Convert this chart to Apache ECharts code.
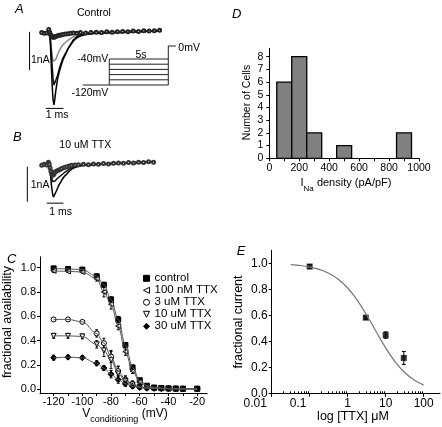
<!DOCTYPE html>
<html><head><meta charset="utf-8">
<script src="https://cdn.jsdelivr.net/npm/echarts@6/dist/echarts.min.js"></script>
<style>html,body{margin:0;padding:0;background:#fff}#c{width:442px;height:427px}</style>
</head><body><div id="c"></div>
<script>
const FONT = "'Liberation Sans', Arial, Helvetica, sans-serif";

// ---------- Panel A / B : current traces (ms, nA) ----------
const traceTime = [0,0.15,0.3,0.4,0.45,0.5,0.55,0.6,0.65,0.7,0.75,0.8,0.9,1.0,1.1,1.2,1.35,1.5,1.65,1.8,2.0,2.2,2.5,2.8,3.1,3.4,3.7,4.0,4.3,4.6,4.9,5.2,5.5,5.8,6.1,6.4,6.7];
const ctrlTraceBig   = [0.0,0.02,-0.02,0.12,0.05,-0.35,-0.9,-1.4,-1.75,-1.87,-1.7,-1.5,-1.2,-1.0,-0.85,-0.7,-0.55,-0.4,-0.28,-0.17,-0.09,-0.05,-0.02,0.0,0.01,-0.01,0.02,0.01,0.03,0.02,0.04,0.03,0.05,0.04,0.06,0.05,0.07];
const ctrlTraceMid   = [0.01,-0.02,0.02,0.1,0.04,-0.2,-0.55,-0.9,-1.2,-1.35,-1.39,-1.3,-1.1,-0.92,-0.78,-0.65,-0.52,-0.4,-0.3,-0.2,-0.12,-0.07,-0.03,-0.01,0.0,0.02,0.01,0.03,0.02,0.03,0.05,0.04,0.05,0.06,0.05,0.07,0.06];
const ctrlTraceGray  = [-0.01,0.01,0.0,0.08,0.03,-0.15,-0.4,-0.6,-0.73,-0.78,-0.75,-0.68,-0.56,-0.45,-0.37,-0.3,-0.24,-0.18,-0.13,-0.09,-0.06,-0.03,-0.01,0.01,0.0,0.02,0.03,0.02,0.04,0.03,0.05,0.04,0.06,0.05,0.06,0.07,0.06];
const ctrlTraceSmall = [0.02,0.0,0.01,0.1,0.03,-0.03,-0.06,-0.09,-0.1,-0.1,-0.09,-0.08,-0.06,-0.05,-0.04,-0.03,-0.02,-0.01,0.0,0.01,0.0,0.02,0.01,0.02,0.03,0.02,0.04,0.03,0.04,0.05,0.04,0.06,0.05,0.07,0.06,0.07,0.08];
const ttxTraceBig    = [0.0,0.03,-0.02,0.12,0.04,-0.15,-0.4,-0.65,-0.82,-0.92,-0.95,-0.88,-0.72,-0.6,-0.52,-0.43,-0.33,-0.26,-0.18,-0.12,-0.07,-0.04,-0.01,0.01,0.0,0.03,0.02,0.04,0.03,0.05,0.06,0.05,0.07,0.08,0.07,0.09,0.1];
const ttxTraceMid    = [0.02,-0.02,0.01,0.1,0.03,-0.1,-0.25,-0.38,-0.47,-0.52,-0.5,-0.46,-0.4,-0.35,-0.32,-0.28,-0.22,-0.17,-0.12,-0.08,-0.05,-0.02,0.0,0.02,0.01,0.03,0.02,0.04,0.05,0.04,0.06,0.05,0.07,0.06,0.08,0.09,0.08];
const ttxTraceGray   = [-0.01,0.02,0.0,0.08,0.02,-0.08,-0.18,-0.25,-0.29,-0.28,-0.24,-0.2,-0.17,-0.15,-0.13,-0.1,-0.07,-0.05,-0.03,-0.01,0.0,0.01,0.02,0.01,0.03,0.02,0.04,0.03,0.05,0.06,0.05,0.07,0.06,0.08,0.07,0.09,0.08];
// scale bars (ms, nA)
const scaleA_vert = [[-0.69,0.04],[-0.69,-0.96]];
const scaleA_horz = [[0.23,-1.96],[1.23,-1.96]];
const scaleB_vert = [[-0.86,-0.05],[-0.86,-1.05]];
const scaleB_horz = [[0.3,-1.09],[1.3,-1.09]];
// voltage protocol (s, mV)
const protoLevels = [-40,-56,-72,-88,-104,-120];
const protoHold = -120, protoHoldStart = -2.25, protoStepEnd = 5, protoTest = 0, protoTestEnd = 5.65;

// ---------- Panel C : availability ----------
const vCond = [-120,-110,-100,-90,-85,-80,-75,-70,-65,-60,-55,-50,-45,-40,-35,-30,-20];
const availCtrl = [0.995,0.99,0.985,0.93,0.86,0.74,0.575,0.365,0.18,0.075,0.03,0.015,0.01,0.008,0.006,0.005,0.005];
const avail100nM = [0.975,0.97,0.965,0.91,0.80,0.70,0.52,0.31,0.15,0.06,0.025,0.012,0.008,0.006,0.005,0.004,0.004];
const avail3uM = [0.575,0.575,0.555,0.46,0.38,0.27,0.15,0.08,0.04,0.02,0.012,0.01,0.008,0.006,0.005,0.004,0.004];
const avail10uM = [0.44,0.44,0.435,0.37,0.32,0.24,0.13,0.07,0.04,0.02,0.012,0.01,0.008,0.006,0.005,0.004,0.004];
const avail30uM = [0.26,0.265,0.26,0.215,0.175,0.125,0.08,0.045,0.025,0.015,0.01,0.008,0.006,0.005,0.004,0.004,0.004];
const errCtrl = [0.01,0.01,0.01,0.015,0.02,0.02,0.025,0.02,0.02,0.015,0.01,0.005,0.005,0.005,0.005,0.005,0.005];
const err100nM = [0.015,0.01,0.01,0.02,0.04,0.04,0.03,0.03,0.02,0.015,0.01,0.005,0.005,0.005,0.005,0.005,0.005];
const err3uM = [0.01,0.01,0.01,0.03,0.04,0.05,0.04,0.03,0.02,0.01,0.008,0.005,0.005,0.005,0.005,0.005,0.005];
const err10uM = [0.02,0.02,0.02,0.03,0.05,0.07,0.06,0.04,0.03,0.015,0.01,0.005,0.005,0.005,0.005,0.005,0.005];
const err30uM = [0.02,0.015,0.015,0.02,0.02,0.03,0.03,0.02,0.015,0.01,0.008,0.005,0.005,0.005,0.005,0.005,0.005];
const cNames = ['control','100 nM TTX','3 uM TTX','10 uM TTX','30 uM TTX'];
const cXLabels = [-120,-100,-80,-60,-40,-20];
const cXTicks = [-120,-110,-100,-90,-80,-70,-60,-50,-40,-30,-20];
const cYLabels = [0,0.2,0.4,0.6,0.8,1.0];

// ---------- Panel D : histogram ----------
const binLow = [50,150,250,450,850];
const binHigh = [150,250,350,550,950];
const cellCounts = [6,8,2,1,2];
const dXLabels = [0,200,400,600,800,1000];
const dXTicks = [0,100,200,300,400,500,600,700,800,900,1000];
const dYLabels = [0,1,2,3,4,5,6,7,8];

// ---------- Panel E : dose response ----------
const ttxConcUM = [0.1,3,10,30];
const fracCurrent = [0.975,0.582,0.448,0.272];
const fracErr = [0.015,0.012,0.025,0.05];
const fitLogConc = [-1.5,-1.25,-1,-0.75,-0.5,-0.25,0,0.25,0.5,0.75,1,1.25,1.5,1.75,2];
const fitFrac = [0.990,0.983,0.971,0.953,0.923,0.877,0.810,0.717,0.602,0.474,0.349,0.242,0.160,0.102,0.063];
const eXLabels = [-2,-1,0,1,2];
const eXTickNames = ['0.01','0.1','1','10','100'];
const eYLabels = [0,0.2,0.4,0.6,0.8,1.0];

// ---------------------------------------------------------
const zip = (xs, ys) => xs.map((x,i)=>[x, ys[i]]);
const axLine = {show:true, onZero:false, lineStyle:{color:'#000', width:1}};
const tick = (vals, len) => ({show:true, length:len||3, customValues: vals, lineStyle:{color:'#000', width:1}});
const hidden = {show:false};

function errRender(cap){
  return function(params, api){
    const x = api.value(0), y = api.value(1), e = api.value(2);
    const lo = api.coord([x, y - e]), hi = api.coord([x, y + e]);
    const st = {stroke:'#000', lineWidth:1};
    return {type:'group', children:[
      {type:'line', shape:{x1:lo[0], y1:lo[1], x2:hi[0], y2:hi[1]}, style:st},
      {type:'line', shape:{x1:hi[0]-cap, y1:hi[1], x2:hi[0]+cap, y2:hi[1]}, style:st},
      {type:'line', shape:{x1:lo[0]-cap, y1:lo[1], x2:lo[0]+cap, y2:lo[1]}, style:st}
    ]};
  };
}

const series = [];
// A traces
series.push({type:'line', xAxisIndex:0, yAxisIndex:0, data:zip(traceTime, ctrlTraceSmall), symbol:'emptyCircle', symbolSize:3, showSymbol:true, silent:true,
  itemStyle:{color:'#222', borderWidth:0.8}, lineStyle:{color:'#222', width:1.6}});
[[ctrlTraceGray,'#8a8a8a'],[ctrlTraceMid,'#111'],[ctrlTraceBig,'#000']].forEach(([arr,col])=>{
  series.push({type:'line', xAxisIndex:0, yAxisIndex:0, data:zip(traceTime, arr), showSymbol:false, silent:true,
    lineStyle:{color:col, width:1.5}});
});
[scaleA_vert, scaleA_horz].forEach(d=>series.push({type:'line', xAxisIndex:0, yAxisIndex:0, data:d, showSymbol:false, silent:true, lineStyle:{color:'#000', width:1}}));
// protocol
protoLevels.forEach(l=>series.push({type:'line', xAxisIndex:1, yAxisIndex:1, data:[[0,l],[protoStepEnd,l]], showSymbol:false, silent:true, lineStyle:{color:'#222', width:1}}));
series.push({type:'line', xAxisIndex:1, yAxisIndex:1, data:[[protoHoldStart,protoHold],[0,protoHold]], showSymbol:false, silent:true, lineStyle:{color:'#222', width:1}});
series.push({type:'line', xAxisIndex:1, yAxisIndex:1, data:[[0,protoHold],[0,protoLevels[0]]], showSymbol:false, silent:true, lineStyle:{color:'#222', width:1}});
series.push({type:'line', xAxisIndex:1, yAxisIndex:1, data:[[protoStepEnd,protoHold],[protoStepEnd,protoTest],[protoTestEnd,protoTest]], showSymbol:false, silent:true, lineStyle:{color:'#222', width:1}});
// B traces
series.push({type:'line', xAxisIndex:2, yAxisIndex:2, data:zip(traceTime, ttxTraceGray), symbol:'emptyCircle', symbolSize:3, showSymbol:true, silent:true,
  itemStyle:{color:'#333', borderWidth:0.8}, lineStyle:{color:'#8a8a8a', width:1.5}});
[[ttxTraceMid,'#111'],[ttxTraceBig,'#000']].forEach(([arr,col])=>{
  series.push({type:'line', xAxisIndex:2, yAxisIndex:2, data:zip(traceTime, arr), showSymbol:false, silent:true,
    lineStyle:{color:col, width:1.5}});
});
[scaleB_vert, scaleB_horz].forEach(d=>series.push({type:'line', xAxisIndex:2, yAxisIndex:2, data:d, showSymbol:false, silent:true, lineStyle:{color:'#000', width:1}}));

// C
const cVals = [availCtrl, avail100nM, avail3uM, avail10uM, avail30uM];
const cErrs = [errCtrl, err100nM, err3uM, err10uM, err30uM];
const TRI_LEFT = 'path://M0,5L10,0L10,10Z';
const TRI_DOWN = 'path://M0,0L10,0L5,10Z';
const cSym = [
  {symbol:'rect', size:5, fill:'#000'},
  {symbol:TRI_LEFT, size:5, fill:'#fff'},
  {symbol:'circle', size:5, fill:'#fff'},
  {symbol:TRI_DOWN, size:5, fill:'#fff'},
  {symbol:'diamond', size:6, fill:'#000'}
];
cVals.forEach(v=>series.push({type:'line', xAxisIndex:3, yAxisIndex:3, data:zip(vCond, v), showSymbol:false, silent:true, smooth:0.35, smoothMonotone:'x', lineStyle:{color:'#555', width:1}}));
cVals.forEach((v,i)=>series.push({type:'custom', xAxisIndex:3, yAxisIndex:3, silent:true, renderItem:errRender(1.5), data:vCond.map((x,j)=>[x, v[j], cErrs[i][j]])}));
cVals.forEach((v,i)=>series.push({type:'scatter', name:cNames[i], xAxisIndex:3, yAxisIndex:3, data:zip(vCond, v), symbol:cSym[i].symbol, symbolSize:cSym[i].size, silent:true,
  itemStyle:{color:cSym[i].fill, borderColor:'#000', borderWidth:1, opacity:1}}));

// D
series.push({type:'custom', xAxisIndex:4, yAxisIndex:4, silent:true, data:binLow.map((b,i)=>[b, binHigh[i], cellCounts[i]]),
  encode:{x:[0,1], y:2},
  renderItem:function(params, api){
    const p0 = api.coord([api.value(0), api.value(2)]);
    const p1 = api.coord([api.value(1), 0]);
    return {type:'rect', shape:{x:p0[0], y:p0[1], width:p1[0]-p0[0], height:p1[1]-p0[1]}, style:{fill:'#808080', stroke:'#000', lineWidth:1.3}};
  }});

// E
series.push({type:'line', xAxisIndex:5, yAxisIndex:5, data:zip(fitLogConc, fitFrac), showSymbol:false, silent:true, smooth:0.3, lineStyle:{color:'#777', width:1.2}});
series.push({type:'custom', xAxisIndex:5, yAxisIndex:5, silent:true, renderItem:errRender(2), data:ttxConcUM.map((c,i)=>[Math.log10(c), fracCurrent[i], fracErr[i]])});
series.push({type:'scatter', xAxisIndex:5, yAxisIndex:5, silent:true, symbol:'rect', symbolSize:6, itemStyle:{color:'#000'}, data:ttxConcUM.map((c,i)=>[Math.log10(c), fracCurrent[i]])});

// minor log ticks for E
const eMinor = [];
for (let d=-2; d<=1; d++) for (let k=2; k<=9; k++) eMinor.push(Math.log10(k*Math.pow(10,d)));

const grid = [
  {left:24.1, top:14.2, width:140.8, height:103.4},
  {left:73.9, top:42.75, width:118, height:48.75},
  {left:25, top:147.5, width:133.6, height:70},
  {left:40, top:256.8, width:167.2, height:136.2},
  {left:269.3, top:48.3, width:149.7, height:110},
  {left:271.7, top:250.3, width:168.3, height:143}
].map(g=>Object.assign({containLabel:false, outerBoundsMode:'none', show:false}, g));

const lbl = (o)=>Object.assign({color:'#000', fontFamily:FONT}, o);

const xAxis = [
  {gridIndex:0, type:'value', min:-1, max:7, show:false},
  {gridIndex:1, type:'value', min:-3, max:7, show:false},
  {gridIndex:2, type:'value', min:-1, max:7, show:false},
  {gridIndex:3, type:'value', min:-129.5, max:-13, axisLine:axLine, splitLine:hidden, axisTick:tick(cXTicks,3),
    axisLabel:lbl({customValues:cXLabels, fontSize:11, margin:3})},
  {gridIndex:4, type:'value', min:0, max:1000, axisLine:axLine, splitLine:hidden, axisTick:tick(dXTicks,3),
    axisLabel:lbl({customValues:dXLabels, fontSize:10.5, margin:4, formatter:v=>String(Math.round(v))})},
  {gridIndex:5, type:'value', min:-2, max:2.43, axisLine:axLine, splitLine:hidden, axisTick:tick(eXLabels,3.5),
    axisLabel:lbl({customValues:eXLabels, fontSize:12, margin:4,
      formatter:function(v){ const i = eXLabels.indexOf(Math.round(v)); const s = eXTickNames[i];
        if (i===0) return '{a|'+s+'}'; if (i===1) return '{b|'+s+'}'; return s; },
      rich:{a:{fontSize:12, fontFamily:FONT, color:'#000', padding:[0,33,0,0]}, b:{fontSize:12, fontFamily:FONT, color:'#000', padding:[0,23,0,0]}}})},
  {gridIndex:5, type:'value', min:-2, max:2.43, axisLine:{show:false}, splitLine:hidden, axisLabel:{show:false}, axisTick:tick(eMinor,2)}
];
const yAxis = [
  {gridIndex:0, type:'value', min:-2.2, max:0.5, show:false},
  {gridIndex:1, type:'value', min:-140, max:10, show:false},
  {gridIndex:2, type:'value', min:-1.5, max:0.5, show:false},
  {gridIndex:3, type:'value', min:-0.03, max:1.09, axisLine:axLine, splitLine:hidden, axisTick:tick(cYLabels,3),
    axisLabel:lbl({customValues:cYLabels, fontSize:11, margin:4, formatter:v=>v.toFixed(1)})},
  {gridIndex:4, type:'value', min:0, max:8.66, axisLine:axLine, splitLine:hidden, axisTick:tick(dYLabels,3),
    axisLabel:lbl({customValues:dYLabels, fontSize:10.5, margin:6})},
  {gridIndex:5, type:'value', min:0, max:1.1, axisLine:axLine, splitLine:hidden, axisTick:tick(eYLabels,3),
    axisLabel:lbl({customValues:eYLabels, fontSize:12, margin:4, formatter:v=>v.toFixed(1)})}
];

function T(text, x, y, o){
  o = o || {};
  const st = Object.assign({text:text, fontSize:10.5, fontFamily:FONT, fill:'#000',
    textAlign:o.align||'left', align:o.align||'left', textVerticalAlign:'middle', verticalAlign:'middle'}, o.style||{});
  return {type:'text', x:x, y:y, rotation:o.rot||0, silent:true, style:st};
}
const letter = {fontSize:13, fontStyle:'italic'};
const graphic = [
  T('A', 15, 9.5, {style:letter}),
  T('Control', 77, 13),
  T('-40mV', 108.3, 59, {align:'right', style:{fontSize:10.5}}),
  T('-120mV', 108.3, 93, {align:'right', style:{fontSize:10.5}}),
  T('5s', 141, 55, {align:'center'}),
  T('0mV', 178.3, 48.3),
  T('1nA', 31, 60.5),
  T('1 ms', 45.7, 115),
  T('B', 13, 137, {style:letter}),
  T('10 uM TTX', 59.3, 145.5),
  T('1nA', 30.7, 185.5),
  T('1 ms', 49.3, 211.7),
  T('C', 7, 259, {style:letter}),
  T('D', 232, 14, {style:letter}),
  T('E', 236.7, 251, {style:letter}),
  T('Number of Cells', 246.7, 102.5, {align:'center', rot:Math.PI/2, style:{fontSize:10.5}}),
  T('{a|I}{b|Na}{a| density (pA/pF)}', 346, 183, {align:'center', style:{rich:{
     a:{fontSize:11, fontFamily:FONT, fill:'#000', lineHeight:14},
     b:{fontSize:8, fontFamily:FONT, fill:'#000', lineHeight:20, verticalAlign:'bottom'}}}}),
  T('fractional availability', 8, 322, {align:'center', rot:Math.PI/2, style:{fontSize:12.5}}),
  T('{a|V}{b|conditioning}{a| (mV)}', 125, 414, {align:'center', style:{rich:{
     a:{fontSize:12, fontFamily:FONT, fill:'#000', lineHeight:14, verticalAlign:'middle'},
     b:{fontSize:9, fontFamily:FONT, fill:'#000', lineHeight:20, verticalAlign:'bottom'}}}}),
  T('fractional current', 239, 322, {align:'center', rot:Math.PI/2, style:{fontSize:12.5}}),
  T('log [TTX] \u03bcM', 353, 417, {align:'center', style:{fontSize:12.5}})
];

const legendData = cNames.map((n,i)=>({name:n, icon:cSym[i].symbol,
  itemStyle:{color:cSym[i].fill, borderColor:'#000', borderWidth:1}}));

const chart = echarts.init(document.getElementById('c'), null, {renderer:'canvas'});
chart.setOption({
  animation:false,
  backgroundColor:'#fff',
  textStyle:{fontFamily:FONT},
  grid:grid, xAxis:xAxis, yAxis:yAxis, series:series, graphic:graphic,
  legend:{show:true, data:legendData, left:143, top:272.3, orient:'vertical', itemGap:0, itemWidth:6, itemHeight:6,
    padding:0, selectedMode:false, textStyle:{fontSize:11.5, lineHeight:9.4, color:'#000', fontFamily:FONT}}
});
</script></body></html>
